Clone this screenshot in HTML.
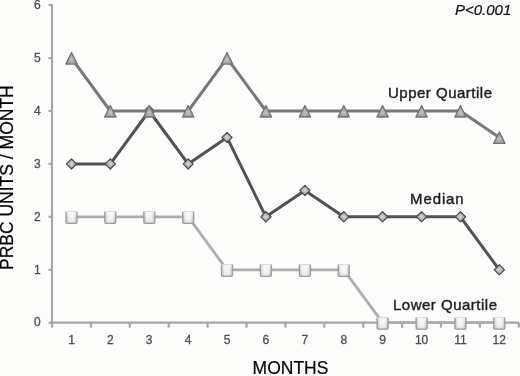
<!DOCTYPE html>
<html><head><meta charset="utf-8"><style>
html,body{margin:0;padding:0;background:#fdfdfc;}
body{width:520px;height:376px;overflow:hidden;position:relative;}
svg{position:absolute;left:0;top:0;filter:blur(0.6px);}
text{font-family:"Liberation Sans",sans-serif;}
.tl{font-size:12px;fill:#4e4e4e;stroke:#4e4e4e;stroke-width:0.3px;}
.sl{font-size:15px;letter-spacing:0.5px;fill:#1e1e1e;stroke:#1e1e1e;stroke-width:0.4px;}
.pv{font-size:15px;font-style:italic;fill:#111;stroke:#111;stroke-width:0.2px;}
.at{font-size:17.5px;fill:#000;stroke:#000;stroke-width:0.2px;}
</style></head><body>
<svg width="520" height="376" viewBox="0 0 520 376">
<defs>
<filter id="fb" x="-20%" y="-20%" width="140%" height="140%"><feGaussianBlur stdDeviation="0.35"/></filter>
<radialGradient id="dg" cx="0.5" cy="0.5" r="0.5">
<stop offset="0" stop-color="#dadada"/><stop offset="1" stop-color="#959595"/>
</radialGradient>
<radialGradient id="tg" cx="0.5" cy="0.6" r="0.55">
<stop offset="0" stop-color="#c4c4c4"/><stop offset="1" stop-color="#8e8e8e"/>
</radialGradient>
<linearGradient id="sg" x1="0" y1="0" x2="1" y2="0">
<stop offset="0" stop-color="#c4c4c4"/><stop offset="0.3" stop-color="#f4f4f4"/><stop offset="0.7" stop-color="#f4f4f4"/><stop offset="1" stop-color="#c4c4c4"/>
</linearGradient>
<linearGradient id="sv" x1="0" y1="0" x2="0" y2="1">
<stop offset="0" stop-color="#fff" stop-opacity="0.5"/><stop offset="0.5" stop-color="#fff" stop-opacity="0"/><stop offset="1" stop-color="#000" stop-opacity="0.1"/>
</linearGradient>
</defs>
<path d="M48.5,5 H52 V325.7" fill="none" stroke="#a6a6a6" stroke-width="2.2"/>
<path d="M52,322.7 H519" fill="none" stroke="#a6a6a6" stroke-width="2.2"/>
<path d="M48.5,322.7 H52" stroke="#a6a6a6" stroke-width="2.2"/>
<path d="M48.5,269.8 H52" stroke="#a6a6a6" stroke-width="2.2"/>
<path d="M48.5,216.8 H52" stroke="#a6a6a6" stroke-width="2.2"/>
<path d="M48.5,163.9 H52" stroke="#a6a6a6" stroke-width="2.2"/>
<path d="M48.5,111.0 H52" stroke="#a6a6a6" stroke-width="2.2"/>
<path d="M48.5,58.1 H52" stroke="#a6a6a6" stroke-width="2.2"/>
<path d="M52.0,322.7 V327.7" stroke="#a6a6a6" stroke-width="2.2"/>
<path d="M90.9,322.7 V327.7" stroke="#a6a6a6" stroke-width="2.2"/>
<path d="M129.8,322.7 V327.7" stroke="#a6a6a6" stroke-width="2.2"/>
<path d="M168.7,322.7 V327.7" stroke="#a6a6a6" stroke-width="2.2"/>
<path d="M207.6,322.7 V327.7" stroke="#a6a6a6" stroke-width="2.2"/>
<path d="M246.5,322.7 V327.7" stroke="#a6a6a6" stroke-width="2.2"/>
<path d="M285.4,322.7 V327.7" stroke="#a6a6a6" stroke-width="2.2"/>
<path d="M324.3,322.7 V327.7" stroke="#a6a6a6" stroke-width="2.2"/>
<path d="M363.2,322.7 V327.7" stroke="#a6a6a6" stroke-width="2.2"/>
<path d="M402.1,322.7 V327.7" stroke="#a6a6a6" stroke-width="2.2"/>
<path d="M441.0,322.7 V327.7" stroke="#a6a6a6" stroke-width="2.2"/>
<path d="M479.9,322.7 V327.7" stroke="#a6a6a6" stroke-width="2.2"/>
<path d="M518.8,322.7 V327.7" stroke="#a6a6a6" stroke-width="2.2"/>
<g filter="url(#fb)">
<text x="40.8" y="326.4" text-anchor="end" class="tl">0</text>
<text x="40.8" y="273.5" text-anchor="end" class="tl">1</text>
<text x="40.8" y="220.5" text-anchor="end" class="tl">2</text>
<text x="40.8" y="167.6" text-anchor="end" class="tl">3</text>
<text x="40.8" y="114.7" text-anchor="end" class="tl">4</text>
<text x="40.8" y="61.8" text-anchor="end" class="tl">5</text>
<text x="40.8" y="8.8" text-anchor="end" class="tl">6</text>
<text x="71.5" y="344.2" text-anchor="middle" class="tl">1</text>
<text x="110.3" y="344.2" text-anchor="middle" class="tl">2</text>
<text x="149.2" y="344.2" text-anchor="middle" class="tl">3</text>
<text x="188.2" y="344.2" text-anchor="middle" class="tl">4</text>
<text x="227.0" y="344.2" text-anchor="middle" class="tl">5</text>
<text x="265.9" y="344.2" text-anchor="middle" class="tl">6</text>
<text x="304.9" y="344.2" text-anchor="middle" class="tl">7</text>
<text x="343.8" y="344.2" text-anchor="middle" class="tl">8</text>
<text x="382.6" y="344.2" text-anchor="middle" class="tl">9</text>
<text x="421.6" y="344.2" text-anchor="middle" class="tl">10</text>
<text x="460.4" y="344.2" text-anchor="middle" class="tl">11</text>
<text x="499.3" y="344.2" text-anchor="middle" class="tl">12</text>
</g>
<polyline points="71.5,216.8 110.3,216.8 149.2,216.8 188.2,216.8 227.0,269.8 265.9,269.8 304.9,269.8 343.8,269.8 382.6,322.7 421.6,322.7 460.4,322.7 499.3,322.7" fill="none" stroke="#adadad" stroke-width="2.8" stroke-linejoin="round"/>
<rect x="66.0" y="211.5" width="11" height="11.8" rx="1.2" fill="url(#sg)"/>
<rect x="66.0" y="211.5" width="11" height="11.8" rx="1.2" fill="url(#sv)"/>
<path d="M66.0,211.5 V222.1 Q66.0,223.3 67.2,223.3 H75.8 Q77.0,223.3 77.0,222.1 V211.5" fill="none" stroke="#9c9c9c" stroke-width="1.3"/>
<path d="M66.0,211.5 H77.0" stroke="#d4d4d4" stroke-width="0.8"/>
<rect x="104.8" y="211.5" width="11" height="11.8" rx="1.2" fill="url(#sg)"/>
<rect x="104.8" y="211.5" width="11" height="11.8" rx="1.2" fill="url(#sv)"/>
<path d="M104.8,211.5 V222.1 Q104.8,223.3 106.0,223.3 H114.6 Q115.8,223.3 115.8,222.1 V211.5" fill="none" stroke="#9c9c9c" stroke-width="1.3"/>
<path d="M104.8,211.5 H115.8" stroke="#d4d4d4" stroke-width="0.8"/>
<rect x="143.8" y="211.5" width="11" height="11.8" rx="1.2" fill="url(#sg)"/>
<rect x="143.8" y="211.5" width="11" height="11.8" rx="1.2" fill="url(#sv)"/>
<path d="M143.8,211.5 V222.1 Q143.8,223.3 144.9,223.3 H153.6 Q154.8,223.3 154.8,222.1 V211.5" fill="none" stroke="#9c9c9c" stroke-width="1.3"/>
<path d="M143.8,211.5 H154.8" stroke="#d4d4d4" stroke-width="0.8"/>
<rect x="182.7" y="211.5" width="11" height="11.8" rx="1.2" fill="url(#sg)"/>
<rect x="182.7" y="211.5" width="11" height="11.8" rx="1.2" fill="url(#sv)"/>
<path d="M182.7,211.5 V222.1 Q182.7,223.3 183.8,223.3 H192.5 Q193.7,223.3 193.7,222.1 V211.5" fill="none" stroke="#9c9c9c" stroke-width="1.3"/>
<path d="M182.7,211.5 H193.7" stroke="#d4d4d4" stroke-width="0.8"/>
<rect x="221.5" y="264.5" width="11" height="11.8" rx="1.2" fill="url(#sg)"/>
<rect x="221.5" y="264.5" width="11" height="11.8" rx="1.2" fill="url(#sv)"/>
<path d="M221.5,264.5 V275.1 Q221.5,276.3 222.7,276.3 H231.3 Q232.5,276.3 232.5,275.1 V264.5" fill="none" stroke="#9c9c9c" stroke-width="1.3"/>
<path d="M221.5,264.5 H232.5" stroke="#d4d4d4" stroke-width="0.8"/>
<rect x="260.4" y="264.5" width="11" height="11.8" rx="1.2" fill="url(#sg)"/>
<rect x="260.4" y="264.5" width="11" height="11.8" rx="1.2" fill="url(#sv)"/>
<path d="M260.4,264.5 V275.1 Q260.4,276.3 261.6,276.3 H270.2 Q271.4,276.3 271.4,275.1 V264.5" fill="none" stroke="#9c9c9c" stroke-width="1.3"/>
<path d="M260.4,264.5 H271.4" stroke="#d4d4d4" stroke-width="0.8"/>
<rect x="299.4" y="264.5" width="11" height="11.8" rx="1.2" fill="url(#sg)"/>
<rect x="299.4" y="264.5" width="11" height="11.8" rx="1.2" fill="url(#sv)"/>
<path d="M299.4,264.5 V275.1 Q299.4,276.3 300.6,276.3 H309.2 Q310.4,276.3 310.4,275.1 V264.5" fill="none" stroke="#9c9c9c" stroke-width="1.3"/>
<path d="M299.4,264.5 H310.4" stroke="#d4d4d4" stroke-width="0.8"/>
<rect x="338.2" y="264.5" width="11" height="11.8" rx="1.2" fill="url(#sg)"/>
<rect x="338.2" y="264.5" width="11" height="11.8" rx="1.2" fill="url(#sv)"/>
<path d="M338.2,264.5 V275.1 Q338.2,276.3 339.4,276.3 H348.1 Q349.2,276.3 349.2,275.1 V264.5" fill="none" stroke="#9c9c9c" stroke-width="1.3"/>
<path d="M338.2,264.5 H349.2" stroke="#d4d4d4" stroke-width="0.8"/>
<rect x="377.1" y="317.4" width="11" height="11.8" rx="1.2" fill="url(#sg)"/>
<rect x="377.1" y="317.4" width="11" height="11.8" rx="1.2" fill="url(#sv)"/>
<path d="M377.1,317.4 V328.0 Q377.1,329.2 378.3,329.2 H386.9 Q388.1,329.2 388.1,328.0 V317.4" fill="none" stroke="#9c9c9c" stroke-width="1.3"/>
<path d="M377.1,317.4 H388.1" stroke="#d4d4d4" stroke-width="0.8"/>
<rect x="416.1" y="317.4" width="11" height="11.8" rx="1.2" fill="url(#sg)"/>
<rect x="416.1" y="317.4" width="11" height="11.8" rx="1.2" fill="url(#sv)"/>
<path d="M416.1,317.4 V328.0 Q416.1,329.2 417.2,329.2 H425.9 Q427.1,329.2 427.1,328.0 V317.4" fill="none" stroke="#9c9c9c" stroke-width="1.3"/>
<path d="M416.1,317.4 H427.1" stroke="#d4d4d4" stroke-width="0.8"/>
<rect x="454.9" y="317.4" width="11" height="11.8" rx="1.2" fill="url(#sg)"/>
<rect x="454.9" y="317.4" width="11" height="11.8" rx="1.2" fill="url(#sv)"/>
<path d="M454.9,317.4 V328.0 Q454.9,329.2 456.1,329.2 H464.8 Q465.9,329.2 465.9,328.0 V317.4" fill="none" stroke="#9c9c9c" stroke-width="1.3"/>
<path d="M454.9,317.4 H465.9" stroke="#d4d4d4" stroke-width="0.8"/>
<rect x="493.8" y="317.4" width="11" height="11.8" rx="1.2" fill="url(#sg)"/>
<rect x="493.8" y="317.4" width="11" height="11.8" rx="1.2" fill="url(#sv)"/>
<path d="M493.8,317.4 V328.0 Q493.8,329.2 495.0,329.2 H503.6 Q504.8,329.2 504.8,328.0 V317.4" fill="none" stroke="#9c9c9c" stroke-width="1.3"/>
<path d="M493.8,317.4 H504.8" stroke="#d4d4d4" stroke-width="0.8"/>
<polyline points="71.5,163.9 110.3,163.9 149.2,111.0 188.2,163.9 227.0,137.4 265.9,216.8 304.9,190.4 343.8,216.8 382.6,216.8 421.6,216.8 460.4,216.8 499.3,269.8" fill="none" stroke="#525252" stroke-width="3" stroke-linejoin="round"/>
<path d="M71.5,158.8 L76.5,163.9 L71.5,169.0 L66.4,163.9 Z" fill="url(#dg)" stroke="#4a4a4a" stroke-width="1.2" stroke-linejoin="round"/>
<path d="M110.3,158.8 L115.4,163.9 L110.3,169.0 L105.2,163.9 Z" fill="url(#dg)" stroke="#4a4a4a" stroke-width="1.2" stroke-linejoin="round"/>
<path d="M149.2,105.9 L154.3,111.0 L149.2,116.1 L144.2,111.0 Z" fill="url(#dg)" stroke="#4a4a4a" stroke-width="1.2" stroke-linejoin="round"/>
<path d="M188.2,158.8 L193.2,163.9 L188.2,169.0 L183.1,163.9 Z" fill="url(#dg)" stroke="#4a4a4a" stroke-width="1.2" stroke-linejoin="round"/>
<path d="M227.0,132.3 L232.1,137.4 L227.0,142.5 L221.9,137.4 Z" fill="url(#dg)" stroke="#4a4a4a" stroke-width="1.2" stroke-linejoin="round"/>
<path d="M265.9,211.7 L271.1,216.8 L265.9,221.9 L260.8,216.8 Z" fill="url(#dg)" stroke="#4a4a4a" stroke-width="1.2" stroke-linejoin="round"/>
<path d="M304.9,185.3 L310.0,190.4 L304.9,195.5 L299.8,190.4 Z" fill="url(#dg)" stroke="#4a4a4a" stroke-width="1.2" stroke-linejoin="round"/>
<path d="M343.8,211.7 L348.9,216.8 L343.8,221.9 L338.6,216.8 Z" fill="url(#dg)" stroke="#4a4a4a" stroke-width="1.2" stroke-linejoin="round"/>
<path d="M382.6,211.7 L387.8,216.8 L382.6,221.9 L377.5,216.8 Z" fill="url(#dg)" stroke="#4a4a4a" stroke-width="1.2" stroke-linejoin="round"/>
<path d="M421.6,211.7 L426.7,216.8 L421.6,221.9 L416.4,216.8 Z" fill="url(#dg)" stroke="#4a4a4a" stroke-width="1.2" stroke-linejoin="round"/>
<path d="M460.4,211.7 L465.6,216.8 L460.4,221.9 L455.3,216.8 Z" fill="url(#dg)" stroke="#4a4a4a" stroke-width="1.2" stroke-linejoin="round"/>
<path d="M499.3,264.7 L504.4,269.8 L499.3,274.9 L494.2,269.8 Z" fill="url(#dg)" stroke="#4a4a4a" stroke-width="1.2" stroke-linejoin="round"/>
<polyline points="71.5,58.1 110.3,111.0 149.2,111.0 188.2,111.0 227.0,58.1 265.9,111.0 304.9,111.0 343.8,111.0 382.6,111.0 421.6,111.0 460.4,111.0 499.3,137.4" fill="none" stroke="#787878" stroke-width="3" stroke-linejoin="round"/>
<path d="M71.5,52.6 L77.2,64.1 L65.8,64.1 Z" fill="url(#tg)" stroke="#747474" stroke-width="1.3" stroke-linejoin="round"/>
<path d="M110.3,105.5 L116.0,117.0 L104.6,117.0 Z" fill="url(#tg)" stroke="#747474" stroke-width="1.3" stroke-linejoin="round"/>
<path d="M149.2,105.5 L154.9,117.0 L143.6,117.0 Z" fill="url(#tg)" stroke="#747474" stroke-width="1.3" stroke-linejoin="round"/>
<path d="M188.2,105.5 L193.8,117.0 L182.5,117.0 Z" fill="url(#tg)" stroke="#747474" stroke-width="1.3" stroke-linejoin="round"/>
<path d="M227.0,52.6 L232.7,64.1 L221.3,64.1 Z" fill="url(#tg)" stroke="#747474" stroke-width="1.3" stroke-linejoin="round"/>
<path d="M265.9,105.5 L271.6,117.0 L260.2,117.0 Z" fill="url(#tg)" stroke="#747474" stroke-width="1.3" stroke-linejoin="round"/>
<path d="M304.9,105.5 L310.6,117.0 L299.2,117.0 Z" fill="url(#tg)" stroke="#747474" stroke-width="1.3" stroke-linejoin="round"/>
<path d="M343.8,105.5 L349.4,117.0 L338.1,117.0 Z" fill="url(#tg)" stroke="#747474" stroke-width="1.3" stroke-linejoin="round"/>
<path d="M382.6,105.5 L388.3,117.0 L376.9,117.0 Z" fill="url(#tg)" stroke="#747474" stroke-width="1.3" stroke-linejoin="round"/>
<path d="M421.6,105.5 L427.2,117.0 L415.9,117.0 Z" fill="url(#tg)" stroke="#747474" stroke-width="1.3" stroke-linejoin="round"/>
<path d="M460.4,105.5 L466.1,117.0 L454.8,117.0 Z" fill="url(#tg)" stroke="#747474" stroke-width="1.3" stroke-linejoin="round"/>
<path d="M499.3,131.9 L505.0,143.4 L493.6,143.4 Z" fill="url(#tg)" stroke="#747474" stroke-width="1.3" stroke-linejoin="round"/>
<text x="388" y="97.6" class="sl">Upper Quartile</text>
<text x="410" y="204.2" class="sl" style="letter-spacing:0.9px">Median</text>
<text x="393" y="310.3" class="sl">Lower Quartile</text>
<text x="455" y="15.2" class="pv">P&lt;0.001</text>
<text x="290.5" y="374" text-anchor="middle" class="at">MONTHS</text>
<text transform="translate(12.6,270) rotate(-90)" x="0" y="0" class="at">PRBC UNITS / MONTH</text>
</svg>
</body></html>
